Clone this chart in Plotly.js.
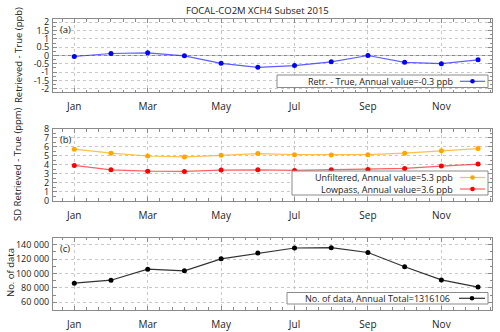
<!DOCTYPE html>
<html>
<head>
<meta charset="utf-8">
<script src="https://cdn.plot.ly/plotly-3.0.1.min.js"></script>
<style>
  html, body { margin: 0; padding: 0; background: #fff; }
  #chart { width: 500px; height: 332px; }
</style>
</head>
<body>
<div id="chart"></div>
<script>
// month index (1 = Jan)
const months = [1, 2, 3, 4, 5, 6, 7, 8, 9, 10, 11, 12];
const tickMonths = [1, 3, 5, 7, 9, 11];
const tickNames = ['Jan', 'Mar', 'May', 'Jul', 'Sep', 'Nov'];

// (a) retrieved - true, ppb
const bias = [-0.06, 0.12, 0.16, -0.02, -0.47, -0.71, -0.61, -0.38, 0.0, -0.41, -0.49, -0.26];
const biasTicks = [-2, -1.5, -1, -0.5, 0, 0.5, 1, 1.5, 2];
const biasTickText = ['-2', '-1.5', '-1', '-0.5', '0', '0.5', '1', '1.5', '2'];
// (b) SD retrieved - true
const sdUnfiltered = [5.74, 5.29, 4.98, 4.87, 5.06, 5.25, 5.13, 5.10, 5.13, 5.29, 5.58, 5.81];
const sdLowpass = [3.93, 3.43, 3.28, 3.25, 3.40, 3.43, 3.36, 3.43, 3.47, 3.59, 3.85, 4.08];
// (c) number of data
const nData = [86500, 90700, 106000, 103700, 120400, 128400, 135400, 135800, 129200, 109300, 91100, 81200];
const nDataTicks = [60000, 80000, 100000, 120000, 140000];

const legendTexts = {
  a: ['Retr. - True, Annual value=-0.3 ppb'],
  b: ['Unfiltered, Annual value=5.3 ppb', 'Lowpass, Annual value=3.6 ppb'],
  c: ['No. of data, Annual Total=1316106']
};

const W = 500, H = 332;
// margins are zero, so paper coords = whole picture
const px = x => x / W;
const py = y => 1 - y / H;

const FAM = 'Open Sans, Noto Sans, sans-serif';
const txtCol = '#222';
const font = {family: FAM, size: 10, color: txtCol};
const gridCol = '#c8c8c8';
const frameCol = '#8a8a8a';

function xAxis(anchor) {
  return {
    anchor: anchor,
    domain: [px(53), px(492)],
    range: [0.42, 12.38],
    tickvals: tickMonths,
    ticktext: tickNames,
    ticks: 'inside',
    ticklen: 4,
    tickcolor: frameCol,
    ticklabelstandoff: 5,
    minor: {dtick: 1 / 3, tick0: 1, ticks: 'inside', ticklen: 2.5, tickcolor: frameCol, showgrid: false},
    showgrid: true,
    gridcolor: gridCol,
    griddash: 'dot',
    showline: true,
    linecolor: frameCol,
    mirror: 'allticks',
    zeroline: false,
    tickfont: {size: 10},
    fixedrange: true
  };
}

function yAxis(anchor, domain, range, dtick, extra) {
  return Object.assign({
    anchor: anchor,
    domain: domain,
    range: range,
    dtick: dtick,
    ticks: 'inside',
    ticklen: 4,
    tickcolor: frameCol,
    minor: {dtick: dtick / 2, ticks: 'inside', ticklen: 2.5, tickcolor: frameCol, showgrid: false},
    showgrid: true,
    gridcolor: gridCol,
    griddash: 'dot',
    showline: true,
    linecolor: frameCol,
    mirror: 'allticks',
    zeroline: false,
    tickfont: {size: 9},
    ticklabelstandoff: 1,
    fixedrange: true
  }, extra || {});
}

const traces = [
  {x: months, y: bias, xaxis: 'x', yaxis: 'y', type: 'scatter', mode: 'lines+markers',
   line: {color: 'rgba(40,40,255,0.75)', width: 1.2}, marker: {color: '#0000ff', size: 5}},
  {x: months, y: sdUnfiltered, xaxis: 'x2', yaxis: 'y2', type: 'scatter', mode: 'lines+markers',
   line: {color: 'rgba(255,170,20,0.75)', width: 1.2}, marker: {color: '#ffa500', size: 5}},
  {x: months, y: sdLowpass, xaxis: 'x2', yaxis: 'y2', type: 'scatter', mode: 'lines+markers',
   line: {color: 'rgba(255,30,30,0.7)', width: 1.2}, marker: {color: '#ff0000', size: 5}},
  {x: months, y: nData, xaxis: 'x3', yaxis: 'y3', type: 'scatter', mode: 'lines+markers',
   line: {color: '#333', width: 1.2}, marker: {color: '#000', size: 5}}
];

// hand-made legend boxes (text left, sample on the right)
const shapes = [];
const annotations = [];
function legendBox(x0, y0, x1, y1, rows) {
  shapes.push({type: 'rect', xref: 'paper', yref: 'paper', x0: px(x0), x1: px(x1), y0: py(y0), y1: py(y1),
    line: {color: frameCol, width: 1}, fillcolor: '#fff', layer: 'above'});
  rows.forEach(r => {
    annotations.push({xref: 'paper', yref: 'paper', x: px(r.textEnd), y: py(r.y), xanchor: 'right', yanchor: 'middle',
      text: r.text, showarrow: false, font: {size: 9, color: txtCol}});
    shapes.push({type: 'line', xref: 'paper', yref: 'paper', x0: px(r.s0), x1: px(r.s1), y0: py(r.y), y1: py(r.y),
      line: {color: r.lineColor, width: 1.2}, layer: 'above'});
    const m = (r.s0 + r.s1) / 2;
    shapes.push({type: 'circle', xref: 'paper', yref: 'paper', x0: px(m - 2.3), x1: px(m + 2.3), y0: py(r.y - 2.3), y1: py(r.y + 2.3),
      line: {width: 0}, fillcolor: r.markerColor, layer: 'above'});
  });
}
legendBox(277, 75, 488, 87.5, [
  {text: legendTexts.a[0], y: 81.3, textEnd: 455, s0: 460, s1: 485, lineColor: 'rgba(40,40,255,0.75)', markerColor: '#0000ff'}
]);
legendBox(292, 171, 488, 195, [
  {text: legendTexts.b[0], y: 177.5, textEnd: 455, s0: 460, s1: 485, lineColor: 'rgba(255,170,20,0.75)', markerColor: '#ffa500'},
  {text: legendTexts.b[1], y: 189, textEnd: 455, s0: 460, s1: 485, lineColor: 'rgba(255,30,30,0.7)', markerColor: '#ff0000'}
]);
legendBox(287, 292.5, 488, 304, [
  {text: legendTexts.c[0], y: 298.3, textEnd: 452, s0: 459, s1: 485, lineColor: '#333', markerColor: '#000'}
]);

// zero line in (a)
shapes.push({type: 'line', xref: 'x domain', yref: 'y', x0: 0, x1: 1, y0: 0, y1: 0,
  line: {color: '#888', width: 1}, layer: 'below'});

// panel tags
[['(a)', 'x', 'y'], ['(b)', 'x2', 'y2'], ['(c)', 'x3', 'y3']].forEach(t => {
  annotations.push({xref: t[1] + ' domain', yref: t[2] + ' domain', x: 0.012, y: 0.97, xanchor: 'left', yanchor: 'top',
    text: t[0], showarrow: false, font: {size: 9.5, color: txtCol}});
});

// y axis titles
[['Retrieved - True (ppb)', 18, 55], ['SD Retrieved - True (ppm)', 18, 164], ['No. of data', 10, 273]].forEach(t => {
  annotations.push({xref: 'paper', yref: 'paper', x: px(t[1]), y: py(t[2]), xanchor: 'center', yanchor: 'middle',
    text: t[0], textangle: -90, showarrow: false, font: {size: 9.5, color: txtCol}});
});

// main title
annotations.push({xref: 'paper', yref: 'paper', x: px(257), y: py(10), xanchor: 'center', yanchor: 'middle',
  text: 'FOCAL-CO2M XCH4 Subset 2015', showarrow: false, font: {size: 9.5, color: txtCol}});

const layout = {
  width: W, height: H,
  margin: {l: 0, r: 0, t: 0, b: 0},
  font: font,
  separators: '. ',
  showlegend: false,
  paper_bgcolor: '#fff',
  plot_bgcolor: '#fff',
  xaxis: xAxis('y'),
  xaxis2: xAxis('y2'),
  xaxis3: xAxis('y3'),
  yaxis: yAxis('x', [py(92), py(19)], [-2.2, 2.2], 0.5, {tickvals: biasTicks, ticktext: biasTickText}),
  yaxis2: yAxis('x2', [py(200.5), py(129)], [0, 8], 1),
  yaxis3: yAxis('x3', [py(309.5), py(237.5)], [50000, 150000], 20000, {
    tickvals: nDataTicks, tickformat: ',d',
    minor: {dtick: 10000, ticks: 'inside', ticklen: 2.5, tickcolor: frameCol, showgrid: false}}),
  shapes: shapes,
  annotations: annotations
};

Plotly.newPlot('chart', traces, layout, {displayModeBar: false, staticPlot: true});
</script>
</body>
</html>
